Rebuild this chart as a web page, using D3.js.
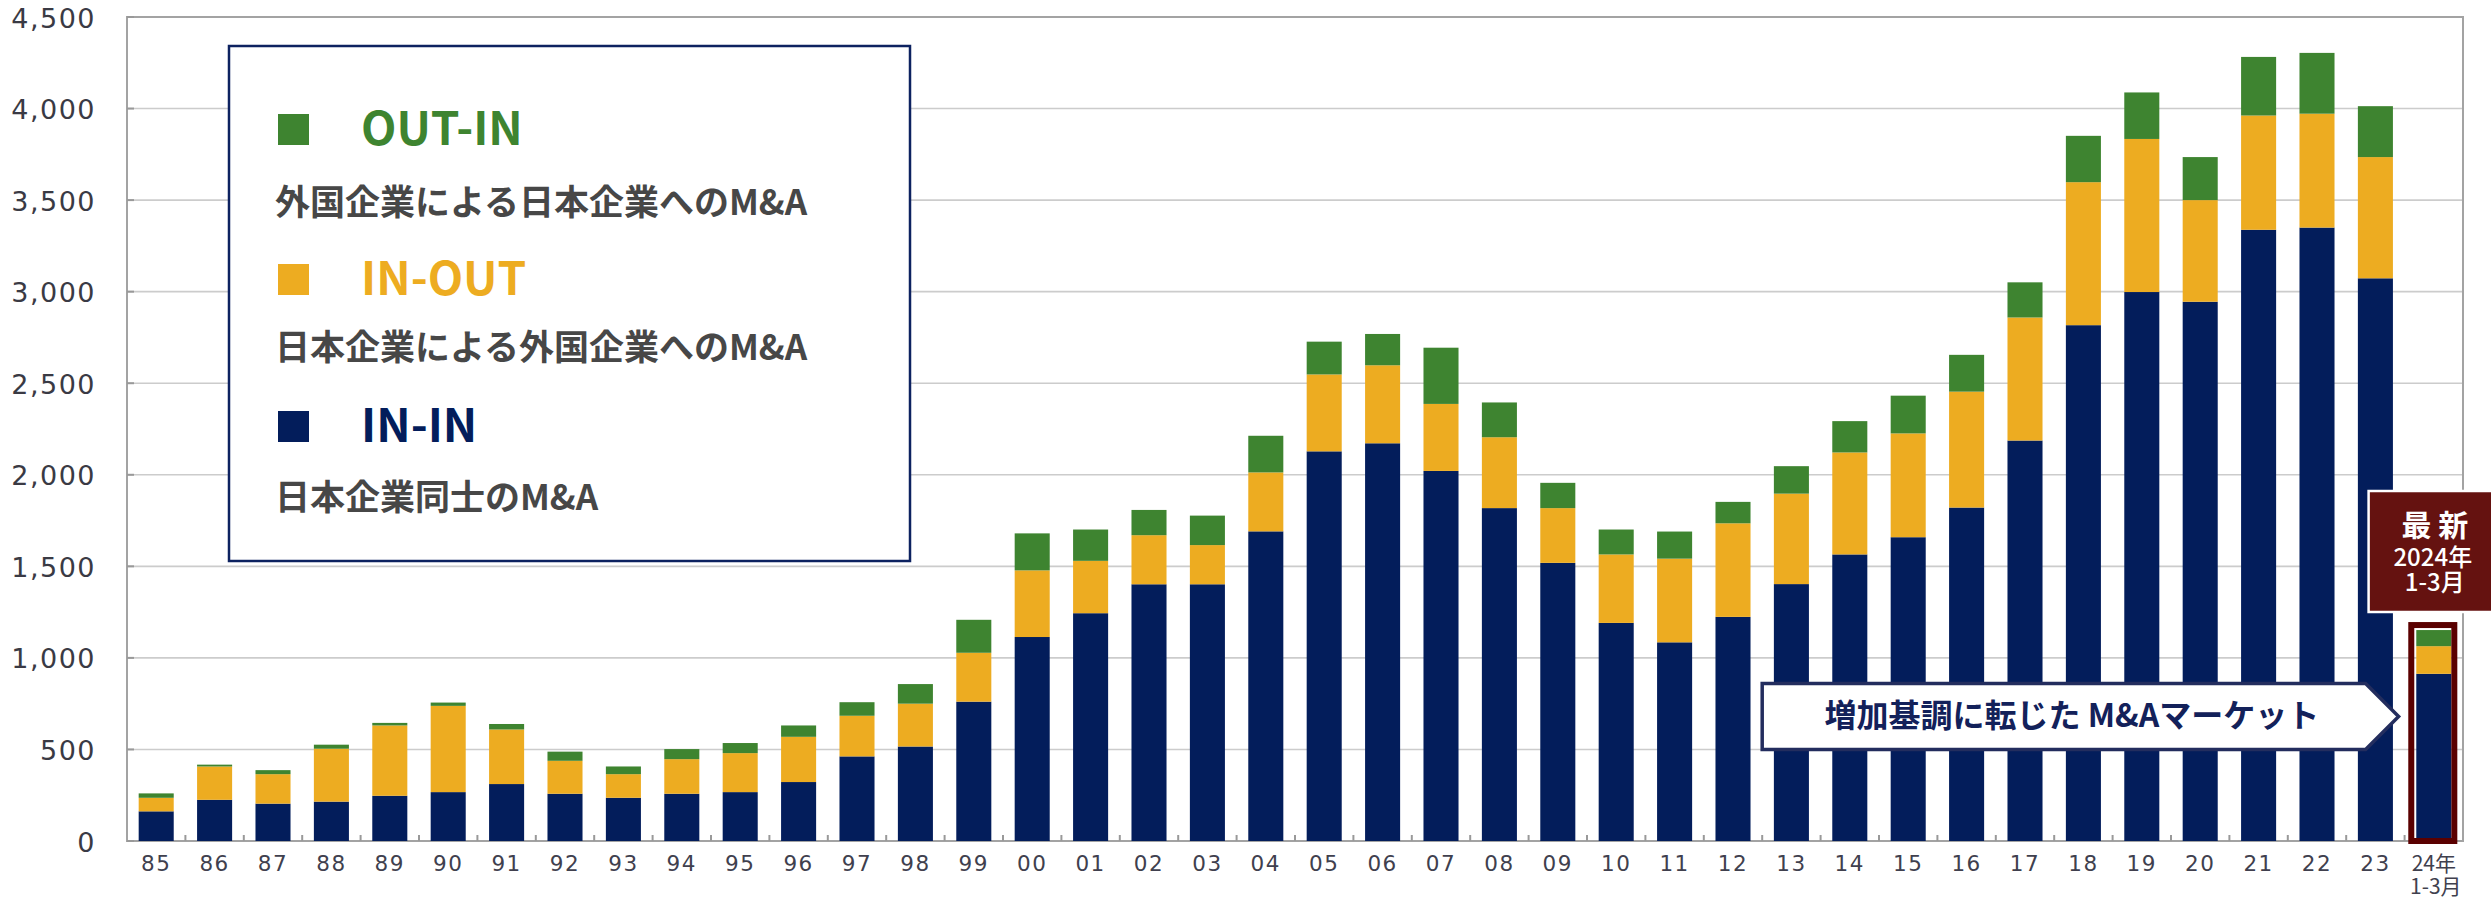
<!DOCTYPE html>
<html>
<head>
<meta charset="utf-8">
<script src="https://cdn.jsdelivr.net/npm/d3@7"></script>
<style>
  html, body { margin: 0; padding: 0; background: #ffffff; }
  svg { display: block; }
</style>
</head>
<body>
<svg id="chart" width="2491" height="900"></svg>
<script>
// ---------------- DATA ----------------
const categories = ["85","86","87","88","89","90","91","92","93","94","95","96","97","98","99",
  "00","01","02","03","04","05","06","07","08","09","10","11","12","13","14","15","16","17",
  "18","19","20","21","22","23","24年"];
const lastSubLabel = "1-3月";

const inIn  = [162,225,204,215,247,267,311,258,236,258,267,322,462,516,761,
  1114,1244,1402,1402,1691,2128,2172,2021,1818,1519,1191,1085,1224,1403,1565,1659,1821,2187,
  2817,2998,2945,3338,3350,3073,913];
const inOut = [74,182,161,289,384,471,298,180,129,189,213,247,222,234,267,
  364,286,268,214,322,420,426,366,387,299,374,457,511,494,557,567,633,672,
  781,836,555,624,622,662,151];
const outIn = [24,10,22,22,14,18,30,50,42,55,55,62,74,107,180,
  202,171,138,161,200,179,171,307,190,138,136,148,117,150,171,206,201,192,
  253,254,235,320,332,278,88];

const yTicks = [0,500,1000,1500,2000,2500,3000,3500,4000,4500];

const seriesKeys   = ["inIn","inOut","outIn"];
const seriesNames  = {outIn:"OUT-IN", inOut:"IN-OUT", inIn:"IN-IN"};
const seriesDescs  = {outIn:"外国企業による日本企業へのM&A", inOut:"日本企業による外国企業へのM&A", inIn:"日本企業同士のM&A"};
const legendOrder  = ["outIn","inOut","inIn"];
const colors = {inIn:"#031d5b", inOut:"#edac21", outIn:"#3e8430"};

const calloutText = "増加基調に転じた M&Aマーケット";
const badgeLines = ["最 新","2024年","1-3月"];
const calloutFromCat = "13";
const calloutTopValue = 860, calloutBottomValue = 500;

// ---------------- LAYOUT ----------------
const svg = d3.select("#chart");
const plotL = 127, plotR = 2463, plotT = 17, plotB = 841;

const x = d3.scaleBand().domain(categories).range([plotL, plotR]).paddingInner(0.4).paddingOuter(0.2);
const xEdge = d3.scaleBand().domain(categories).range([plotL, plotR]).padding(0);
const y = d3.scaleLinear().domain([0, 4500]).range([plotB, plotT]);

const rows = categories.map((c, i) => ({cat: c, inIn: inIn[i], inOut: inOut[i], outIn: outIn[i]}));
const stack = d3.stack().keys(seriesKeys)(rows);

// gridlines
svg.append("g").selectAll("line").data(yTicks.filter(t => t > 0 && t < 4500)).join("line")
  .attr("x1", plotL).attr("x2", plotR)
  .attr("y1", d => y(d)).attr("y2", d => y(d))
  .attr("stroke", "#cccccc").attr("stroke-width", 1.6);

// frame
svg.append("rect").attr("x", plotL).attr("y", plotT)
  .attr("width", plotR - plotL).attr("height", plotB - plotT)
  .attr("fill", "none").attr("stroke", "#a3a3a3").attr("stroke-width", 2);

// y-axis inward ticks
svg.append("g").selectAll("line").data(yTicks).join("line")
  .attr("x1", plotL).attr("x2", plotL + 7)
  .attr("y1", d => y(d)).attr("y2", d => y(d))
  .attr("stroke", "#999").attr("stroke-width", 2);

// x-axis inward ticks at band boundaries
svg.append("g").selectAll("line").data(categories.slice(1)).join("line")
  .attr("x1", d => xEdge(d)).attr("x2", d => xEdge(d))
  .attr("y1", plotB).attr("y2", plotB - 6)
  .attr("stroke", "#999").attr("stroke-width", 2);

// y labels
svg.append("g").selectAll("text").data(yTicks).join("text")
  .attr("x", 96).attr("y", d => y(d) + 1)
  .attr("text-anchor", "end").attr("dominant-baseline", "central")
  .attr("font-family", "'DejaVu Sans', Verdana, sans-serif")
  .attr("font-size", 27).attr("letter-spacing", 1.5)
  .attr("fill", "#3a3a44")
  .text(d => d3.format(",")(d));

// bars
svg.append("g").selectAll("g").data(stack).join("g")
  .attr("fill", d => colors[d.key])
  .selectAll("rect").data(d => d).join("rect")
  .attr("x", d => x(d.data.cat))
  .attr("width", x.bandwidth())
  .attr("y", d => y(d[1]))
  .attr("height", d => y(d[0]) - y(d[1]));

// x labels
const xl = svg.append("g").attr("fill", "#40404e");
xl.selectAll("text").data(categories).join("text")
  .attr("x", d => x(d) + x.bandwidth() / 2)
  .attr("y", 871)
  .attr("text-anchor", "middle")
  .attr("letter-spacing", d => d.length === 2 ? 1.5 : 0)
  .attr("font-family", d => d.length === 2 ? "'DejaVu Sans', Verdana, sans-serif" : "'Noto Sans CJK JP', sans-serif")
  .attr("font-size", d => d.length === 2 ? 21.5 : 21)
  .text(d => d);
const lastCat = categories[categories.length - 1];
xl.append("text")
  .attr("x", x(lastCat) + x.bandwidth() / 2 + 2)
  .attr("y", 894)
  .attr("text-anchor", "middle")
  .attr("font-family", "'Noto Sans CJK JP', sans-serif")
  .attr("font-size", 21)
  .text(lastSubLabel);

// highlight rectangle around latest bar
const lastTotal = inIn[inIn.length-1] + inOut[inOut.length-1] + outIn[outIn.length-1];
svg.append("rect")
  .attr("x", x(lastCat) - 5).attr("width", x.bandwidth() + 8)
  .attr("y", y(lastTotal) - 5).attr("height", plotB - y(lastTotal) + 5)
  .attr("fill", "none").attr("stroke", "#5a0000").attr("stroke-width", 6);

// badge
const bx = xEdge(lastCat) - 36;
const badge = svg.append("g");
badge.append("rect").attr("x", bx).attr("y", 491).attr("width", 140).attr("height", 121)
  .attr("fill", "#651210").attr("stroke", "#ffffff").attr("stroke-width", 2.5);
const bcx = x(lastCat) + x.bandwidth() / 2 + 1;
badge.append("text").attr("x", bcx).attr("y", 536).attr("text-anchor", "middle")
  .attr("font-family", "'Noto Sans CJK JP', sans-serif").attr("font-weight", 700)
  .attr("font-size", 30).attr("fill", "#fff").text(badgeLines[0]);
badge.append("text").attr("x", bcx - 2).attr("y", 566).attr("text-anchor", "middle")
  .attr("font-family", "'Noto Sans CJK JP', sans-serif").attr("font-weight", 500)
  .attr("font-size", 24).attr("fill", "#fff").text(badgeLines[1]);
badge.append("text").attr("x", bcx).attr("y", 591).attr("text-anchor", "middle")
  .attr("font-family", "'Noto Sans CJK JP', sans-serif").attr("font-weight", 500)
  .attr("font-size", 24).attr("fill", "#fff").text(badgeLines[2]);

// callout arrow
const cL = xEdge(calloutFromCat), cTip = xEdge(lastCat) - 6, cBody = cTip - 33;
const cT = y(calloutTopValue), cB = y(calloutBottomValue), cM = (cT + cB) / 2;
svg.append("path")
  .attr("d", `M${cL},${cT}L${cBody},${cT}L${cTip},${cM}L${cBody},${cB}L${cL},${cB}Z`)
  .attr("fill", "#ffffff").attr("stroke", "#232d5e").attr("stroke-width", 3.5)
  .attr("stroke-linejoin", "miter");
svg.append("text").attr("x", (cL + cBody) / 2 + 8).attr("y", cM + 11)
  .attr("text-anchor", "middle")
  .attr("font-family", "'Noto Sans CJK JP', sans-serif").attr("font-weight", 700)
  .attr("font-size", 32).attr("fill", "#13215a").text(calloutText);

// legend
const lg = svg.append("g");
lg.append("rect").attr("x", 229).attr("y", 46).attr("width", 681).attr("height", 515)
  .attr("fill", "#ffffff").attr("stroke", "#0d2260").attr("stroke-width", 2.5);
const rowBase = [145, 295, 442];
const descBase = [215, 360, 510];
legendOrder.forEach((k, i) => {
  lg.append("rect").attr("x", 278).attr("y", rowBase[i] - 31).attr("width", 31).attr("height", 31)
    .attr("fill", colors[k]);
  lg.append("text").attr("x", 361).attr("y", rowBase[i])
    .attr("font-family", "'Noto Sans CJK JP', sans-serif").attr("font-weight", 700)
    .attr("font-size", 46).attr("fill", colors[k]).text(seriesNames[k]);
  lg.append("text").attr("x", 275).attr("y", descBase[i])
    .attr("font-family", "'Noto Sans CJK JP', sans-serif").attr("font-weight", 700)
    .attr("font-size", 35).attr("fill", "#474747").text(seriesDescs[k]);
});
</script>
</body>
</html>
